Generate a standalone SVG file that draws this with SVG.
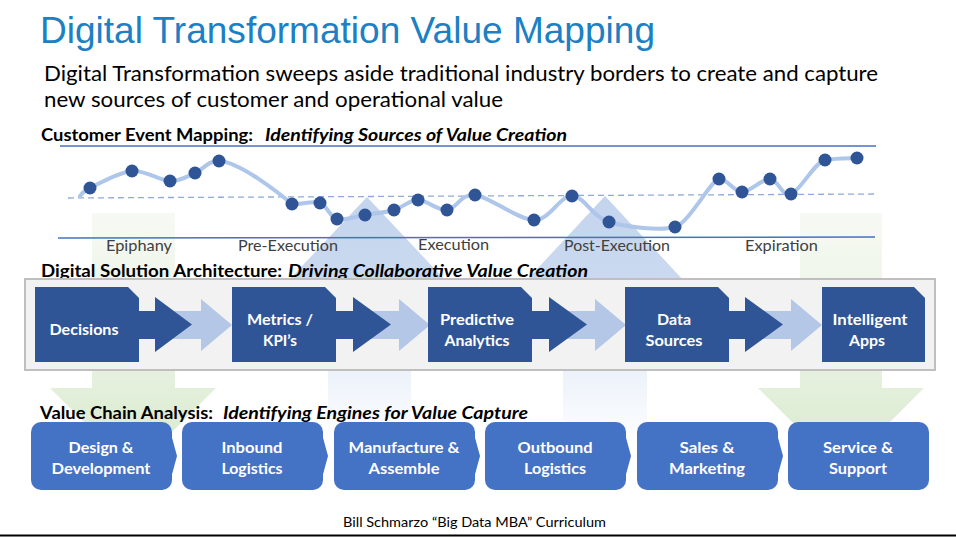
<svg xmlns="http://www.w3.org/2000/svg" width="956" height="537" viewBox="0 0 956 537">
<defs>
<style>
.cal{font-family:Lato,"Open Sans","Liberation Sans",sans-serif}
.hdr{font-family:Lato,"Open Sans","Liberation Sans",sans-serif;font-weight:bold;font-size:16.5px;fill:#000}
.hdri{font-style:italic}
.lbl{font-family:Lato,"Open Sans","Liberation Sans",sans-serif;font-size:15px;fill:#404040}
.bx{fill:#2f5597}
.bxt{font-family:Lato,"Open Sans","Liberation Sans",sans-serif;font-weight:bold;font-size:16px;fill:#fff;text-anchor:middle}
.vc{fill:#4472c4}
.dark{fill:#2f5597}
.light{fill:#b4c7e7}
.dot{fill:#2f5597}
</style>
<linearGradient id="gGreen" gradientUnits="userSpaceOnUse" x1="0" y1="213" x2="0" y2="471">
<stop offset="0" stop-color="#f7faf4"/>
<stop offset="0.6" stop-color="#e6f1df"/>
<stop offset="1" stop-color="#d6e9ca"/>
</linearGradient>
<linearGradient id="gBlueHead" gradientUnits="userSpaceOnUse" x1="0" y1="196" x2="0" y2="290">
<stop offset="0" stop-color="#c3d4ed"/>
<stop offset="1" stop-color="#cbdaef"/>
</linearGradient>
<linearGradient id="gBlueShaft" gradientUnits="userSpaceOnUse" x1="0" y1="370" x2="0" y2="440">
<stop offset="0" stop-color="#ecf2fa"/>
<stop offset="1" stop-color="#fdfeff"/>
</linearGradient>
</defs>
<rect width="956" height="537" fill="#fff"/>

<g id="background-arrows">
<polygon fill="url(#gGreen)" points="92,213 175,213 175,388 216,388 133,471 50,388 92,388"/>
<polygon fill="url(#gGreen)" points="800,213 882,213 882,388 924,388 841,471 758,388 800,388"/>
<polygon fill="url(#gBlueHead)" points="367,197 447,282 411,282 411,300 328,300 328,282 287,282"/>
<rect fill="url(#gBlueShaft)" x="328" y="300" width="83" height="140"/>
<polygon fill="url(#gBlueHead)" points="605,196 685,282 647,282 647,300 563,300 563,282 525,282"/>
<rect fill="url(#gBlueShaft)" x="563" y="300" width="84" height="140"/>
</g>

<g id="title">
<text x="40" y="43" font-family="'Liberation Sans',Arial,sans-serif" font-size="37" fill="#1b80c4" textLength="615" lengthAdjust="spacingAndGlyphs">Digital Transformation Value Mapping</text>
<text class="cal" x="44" y="81" font-size="20.5" fill="#000" textLength="834" lengthAdjust="spacingAndGlyphs">Digital Transformation sweeps aside traditional industry borders to create and capture</text>
<text class="cal" x="44" y="107" font-size="20.5" fill="#000" textLength="459" lengthAdjust="spacingAndGlyphs">new sources of customer and operational value</text>
</g>

<g id="customer-event-mapping">
<text class="hdr" x="41" y="141" textLength="212" lengthAdjust="spacingAndGlyphs">Customer Event Mapping:</text>
<text class="hdr hdri" x="265" y="141" textLength="302" lengthAdjust="spacingAndGlyphs">Identifying Sources of Value Creation</text>
<line x1="60" y1="146" x2="876" y2="146" stroke="#4472c4" stroke-width="1.5"/>
<line x1="58" y1="238" x2="875" y2="237" stroke="#4472c4" stroke-width="1.5"/>
<line x1="68" y1="198" x2="876" y2="194" stroke="#8faadc" stroke-width="1.3" stroke-dasharray="6 4"/>
<path fill="none" stroke="#adc6e9" stroke-width="4" stroke-linecap="round" d="M80,196 C81.7,194.7 81.3,192.2 90,188 C98.7,183.8 118.7,172.2 132,171 C145.3,169.8 159.5,180.7 170,181 C180.5,181.3 186.8,176.3 195,173 C203.2,169.7 207,161 219,161 C240,162 280,194 292,204 C299,205 312.5,200.5 320,203 C327.5,205.5 329.5,217 337,219 C344.5,221 355.5,216.5 365,215 C374.5,213.5 385.2,212.5 394,210 C402.8,207.5 409.2,200 418,200 C426.8,200 437.5,210.8 447,210 C456.5,209.2 460.5,193.3 475,195 C489.5,196.7 517.8,219.8 534,220 C550.2,220.2 559.5,195.7 572,196 C584.5,196.3 591.8,216.8 609,222 C626.2,227.2 661,231 675,227 C689,223 711,180 719,179 C727,178 733.5,192 742,192 C750.5,192 761.8,178.7 770,179 C778.2,179.3 781.8,197.2 791,194 C800.2,190.8 815,162 825,160 C835,158 851.7,158.3 857,158"/>
<g>
<circle class="dot" cx="90" cy="188" r="6.5"/>
<circle class="dot" cx="132" cy="171" r="6.5"/>
<circle class="dot" cx="170" cy="181" r="6.5"/>
<circle class="dot" cx="195" cy="173" r="6.5"/>
<circle class="dot" cx="219" cy="161" r="6.5"/>
<circle class="dot" cx="292" cy="204" r="6.5"/>
<circle class="dot" cx="320" cy="203" r="6.5"/>
<circle class="dot" cx="337" cy="219" r="6.5"/>
<circle class="dot" cx="365" cy="215" r="6.5"/>
<circle class="dot" cx="394" cy="210" r="6.5"/>
<circle class="dot" cx="418" cy="200" r="6.5"/>
<circle class="dot" cx="447" cy="210" r="6.5"/>
<circle class="dot" cx="475" cy="195" r="6.5"/>
<circle class="dot" cx="534" cy="220" r="6.5"/>
<circle class="dot" cx="572" cy="196" r="6.5"/>
<circle class="dot" cx="609" cy="222" r="6.5"/>
<circle class="dot" cx="675" cy="227" r="6.5"/>
<circle class="dot" cx="719" cy="179" r="6.5"/>
<circle class="dot" cx="742" cy="192" r="6.5"/>
<circle class="dot" cx="770" cy="179" r="6.5"/>
<circle class="dot" cx="791" cy="194" r="6.5"/>
<circle class="dot" cx="825" cy="160" r="6.5"/>
<circle class="dot" cx="857" cy="158" r="6.5"/>
</g>
<text class="lbl" x="106" y="251" textLength="66" lengthAdjust="spacingAndGlyphs">Epiphany</text>
<text class="lbl" x="238" y="251" textLength="100" lengthAdjust="spacingAndGlyphs">Pre-Execution</text>
<text class="lbl" x="418" y="250" textLength="71" lengthAdjust="spacingAndGlyphs">Execution</text>
<text class="lbl" x="564" y="251" textLength="106" lengthAdjust="spacingAndGlyphs">Post-Execution</text>
<text class="lbl" x="745" y="251" textLength="73" lengthAdjust="spacingAndGlyphs">Expiration</text>
</g>

<g id="architecture-header">
<text class="hdr" x="41" y="277" textLength="241" lengthAdjust="spacingAndGlyphs">Digital Solution Architecture:</text>
<text class="hdr hdri" x="288" y="277" textLength="300" lengthAdjust="spacingAndGlyphs">Driving Collaborative Value Creation</text>
</g>

<rect id="architecture-frame" x="25" y="279" width="910" height="91" fill="#f2f2f2" stroke="#bfbfbf" stroke-width="2"/>

<g id="connectors">
<polygon class="light" points="155,311 201,311 201,299 232,325 201,351 201,339 155,339"/>
<polygon class="dark" points="139,311 155,311 155,297 192,324.5 155,352 155,339 139,339"/>
<polygon class="light" points="352,311 399,311 399,299 430,325 399,351 399,339 352,339"/>
<polygon class="dark" points="336,311 353,311 353,297 391,324.5 353,352 353,339 336,339"/>
<polygon class="light" points="548,311 595,311 595,299 626,325 595,351 595,339 548,339"/>
<polygon class="dark" points="532,311 549,311 549,297 587,324.5 549,352 549,339 532,339"/>
<polygon class="light" points="745,311 791,311 791,299 822,325 791,351 791,339 745,339"/>
<polygon class="dark" points="729,311 745,311 745,297 783,324.5 745,352 745,339 729,339"/>
</g>

<g id="node-decisions">
<path class="bx" d="M35,287 H128 L139,298 V362 H35 Z"/>
<text class="bxt" x="84" y="335" textLength="69" lengthAdjust="spacingAndGlyphs">Decisions</text>
</g>
<g id="node-metrics">
<path class="bx" d="M232,287 H325 L336,298 V362 H232 Z"/>
<text class="bxt" x="280" y="325" textLength="66" lengthAdjust="spacingAndGlyphs">Metrics /</text>
<text class="bxt" x="280" y="346" textLength="34" lengthAdjust="spacingAndGlyphs">KPI’s</text>
</g>
<g id="node-predictive">
<path class="bx" d="M428,287 H521 L532,298 V362 H428 Z"/>
<text class="bxt" x="477" y="325" textLength="74" lengthAdjust="spacingAndGlyphs">Predictive</text>
<text class="bxt" x="477" y="346" textLength="65" lengthAdjust="spacingAndGlyphs">Analytics</text>
</g>
<g id="node-data-sources">
<path class="bx" d="M625,287 H718 L729,298 V362 H625 Z"/>
<text class="bxt" x="674" y="325" textLength="34" lengthAdjust="spacingAndGlyphs">Data</text>
<text class="bxt" x="674" y="346" textLength="57" lengthAdjust="spacingAndGlyphs">Sources</text>
</g>
<g id="node-intelligent-apps">
<path class="bx" d="M822,287 H914 L925,298 V362 H822 Z"/>
<text class="bxt" x="870" y="325" textLength="75" lengthAdjust="spacingAndGlyphs">Intelligent</text>
<text class="bxt" x="867" y="346" textLength="36" lengthAdjust="spacingAndGlyphs">Apps</text>
</g>

<g id="value-chain-header">
<text class="hdr" x="40" y="419" textLength="173" lengthAdjust="spacingAndGlyphs">Value Chain Analysis:</text>
<text class="hdr hdri" x="223" y="419" textLength="305" lengthAdjust="spacingAndGlyphs">Identifying Engines for Value Capture</text>
</g>

<g id="vc-design">
<rect class="vc" x="31" y="422" width="141" height="68" rx="10"/>
<polygon class="vc" points="171,434 177,456 171,478"/>
<text class="bxt" x="101" y="453" textLength="65" lengthAdjust="spacingAndGlyphs">Design &amp;</text>
<text class="bxt" x="101" y="474" textLength="99" lengthAdjust="spacingAndGlyphs">Development</text>
</g>
<g id="vc-inbound">
<rect class="vc" x="182" y="422" width="141" height="68" rx="10"/>
<polygon class="vc" points="322,434 328,456 322,478"/>
<text class="bxt" x="252" y="453" textLength="61" lengthAdjust="spacingAndGlyphs">Inbound</text>
<text class="bxt" x="252" y="474" textLength="61" lengthAdjust="spacingAndGlyphs">Logistics</text>
</g>
<g id="vc-manufacture">
<rect class="vc" x="334" y="422" width="141" height="68" rx="10"/>
<polygon class="vc" points="474,434 480,456 474,478"/>
<text class="bxt" x="404" y="453" textLength="111" lengthAdjust="spacingAndGlyphs">Manufacture &amp;</text>
<text class="bxt" x="404" y="474" textLength="71" lengthAdjust="spacingAndGlyphs">Assemble</text>
</g>
<g id="vc-outbound">
<rect class="vc" x="485" y="422" width="141" height="68" rx="10"/>
<polygon class="vc" points="625,434 631,456 625,478"/>
<text class="bxt" x="555" y="453" textLength="75" lengthAdjust="spacingAndGlyphs">Outbound</text>
<text class="bxt" x="555" y="474" textLength="62" lengthAdjust="spacingAndGlyphs">Logistics</text>
</g>
<g id="vc-sales">
<rect class="vc" x="637" y="422" width="141" height="68" rx="10"/>
<polygon class="vc" points="777,434 783,456 777,478"/>
<text class="bxt" x="707" y="453" textLength="55" lengthAdjust="spacingAndGlyphs">Sales &amp;</text>
<text class="bxt" x="707" y="474" textLength="76" lengthAdjust="spacingAndGlyphs">Marketing</text>
</g>
<g id="vc-service">
<rect class="vc" x="788" y="422" width="141" height="68" rx="10"/>
<text class="bxt" x="858" y="453" textLength="70" lengthAdjust="spacingAndGlyphs">Service &amp;</text>
<text class="bxt" x="858" y="474" textLength="58" lengthAdjust="spacingAndGlyphs">Support</text>
</g>

<g id="footer">
<text class="cal" x="343" y="527" font-size="13.5" fill="#000" textLength="263" lengthAdjust="spacingAndGlyphs">Bill Schmarzo “Big Data MBA” Curriculum</text>
<line x1="0" y1="535.5" x2="956" y2="535.5" stroke="#000" stroke-width="2"/>
</g>
</svg>
